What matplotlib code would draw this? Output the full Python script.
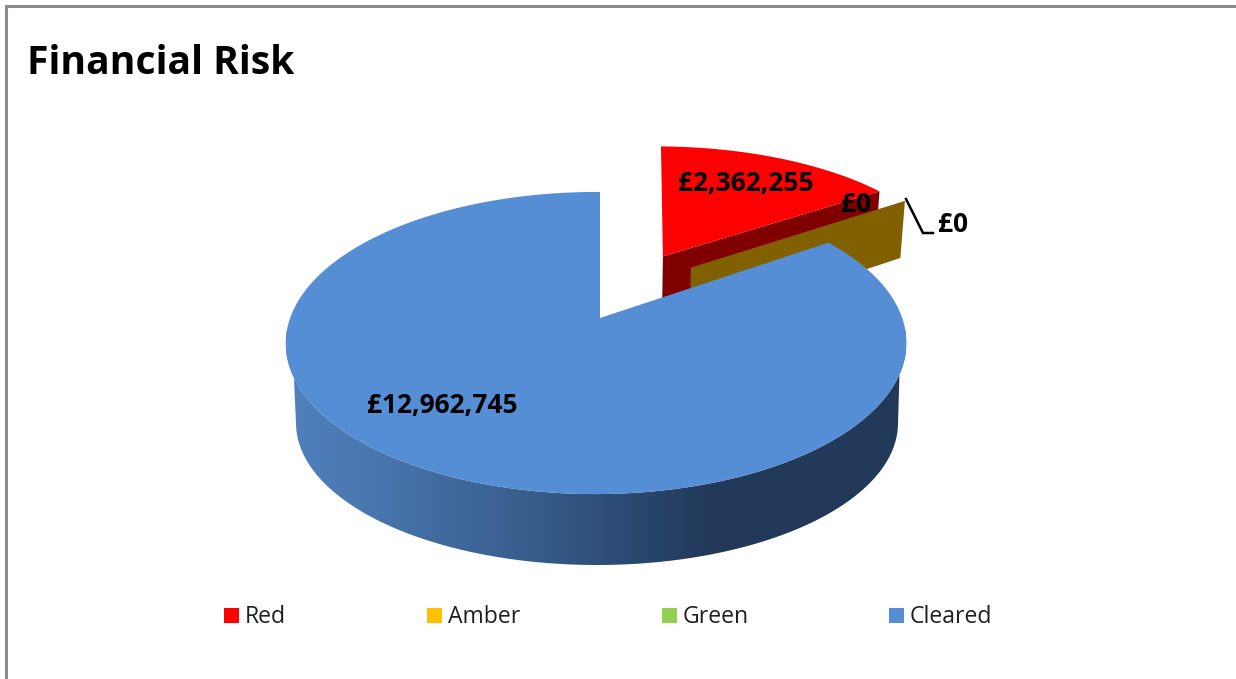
import numpy as np
import matplotlib
matplotlib.use("Agg")
import matplotlib.pyplot as plt
from matplotlib.patches import Polygon, Rectangle
from matplotlib.colors import LinearSegmentedColormap

categories = ["Red", "Amber", "Green", "Cleared"]
values = [2362255, 0, 0, 12962745]
value_labels = ["£2,362,255", "£0", "£0", "£12,962,745"]
top_colors = ["#FF0000", "#FFC000", "#92D050", "#558ED5"]
wall_colors = ["#800000", "#806000", "#496828", "#2A4A70"]

W, H = 1236, 679
plt.rcParams["font.family"] = ["Open Sans", "DejaVu Sans"]

fig = plt.figure(figsize=(W / 100, H / 100), dpi=100)
ax = fig.add_axes([0, 0, 1, 1])
ax.set_xlim(0, W)
ax.set_ylim(H, 0)
ax.axis("off")

# Chart-area frame, open along the right and bottom edges of the canvas
ax.plot([6, 6, W], [H, 6, 6], color="#8C8C8C", lw=2.2, solid_joinstyle="miter")


def project(u, v, gain=306.0, shear=0.0):
    """Map plan coordinates on the pie's unit disc to the tilted view."""
    d = 1 + 0.1656 * v + 0.0125 * u
    return 600 + (gain * u + shear * v) / d, 318 - 146.9 * v / d


def drop(x, y):
    """Carry a point on the top face of a pulled-out slice down to its base."""
    return 600 + 0.985 * (x - 600), 1.0476 * y + 47.5


def rim(start, stop, offset=(0.0, 0.0), n=400, **view):
    th = np.radians(np.linspace(start, stop, n))
    return project(offset[0] + np.cos(th), offset[1] + np.sin(th), **view)


# Slice angles follow the values, running clockwise from twelve o'clock
total = sum(values)
red_end = 90 - 360 * values[0] / total
cleared_sweep = 360 * values[3] / total

# Pull-out of each slice in plan coordinates, with its view adjustment
red_off = (0.205, 0.452)
red_view = dict(gain=313.0, shear=8.0)
amber_off = (0.307, 0.365)
amber_view = dict(gain=315.0)

# Red slice: cut-face wall, then top face
rx, ry = rim(red_end, 90, red_off, **red_view)
red_apex = project(*red_off, **red_view)
corner = (rx[0], ry[0])
ax.add_patch(Polygon([red_apex, corner, drop(*corner), drop(*red_apex)],
                     fc=wall_colors[0], ec="none", zorder=2))
ax.add_patch(Polygon([red_apex, *zip(rx, ry)], fc=top_colors[0], ec="none", zorder=3))

# Amber slice has no sweep, so only its wall shows
am_apex = project(*amber_off, **amber_view)
am_tip = project(amber_off[0] + np.cos(np.radians(red_end)),
                 amber_off[1] + np.sin(np.radians(red_end)), **amber_view)
ax.add_patch(Polygon([am_apex, am_tip, drop(*am_tip), drop(*am_apex)],
                     fc=wall_colors[1], ec="none", zorder=4))

# Cleared slice: curved outer wall with horizontal shading, then top face
bx, by = rim(90, 90 + cleared_sweep)
wx, wy = rim(179, 361)
base = np.radians(np.linspace(180, 360, 400))
ux = 597 + 301 * np.cos(base)
uy = 423 - 142 * np.sin(base)
wall = Polygon(list(zip(wx, wy)) + list(zip(ux[::-1], uy[::-1])),
               fc="none", ec="none", zorder=5)
ax.add_patch(wall)
shade = LinearSegmentedColormap.from_list(
    "wall", [(0, "#4F81BD"), (0.12, "#4A78B0"), (0.42, "#365A88"),
             (0.68, "#22395A"), (1, "#22395A")])
im = ax.imshow(np.linspace(0, 1, 512)[None, :], extent=(286, 906, 600, 330),
               cmap=shade, aspect="auto", zorder=5)
im.set_clip_path(wall)
ax.set_xlim(0, W)
ax.set_ylim(H, 0)
ax.add_patch(Polygon([project(0, 0), *zip(bx, by)], fc=top_colors[3], ec="none", zorder=6))

# Leader line for the amber label
ax.plot([906, 923, 933], [199, 233, 233], color="black", lw=1.8, zorder=7,
        solid_joinstyle="miter")

# Data labels
label_style = dict(fontsize=19, fontweight="bold", color="black",
                   va="center", ha="center", zorder=8)
ax.text(746, 184, value_labels[0], **label_style)
ax.text(856, 205, value_labels[1], **label_style)
ax.text(953, 225, value_labels[2], **label_style)
ax.text(442, 406, value_labels[3], **label_style)

ax.text(27, 64, "Financial Risk", fontsize=28.2, fontweight="bold", color="black",
        va="center", ha="left")

# Legend laid out by hand along the bottom
legend_x = [224, 427, 662, 889]
for name, color, x in zip(categories, top_colors, legend_x):
    ax.add_patch(Rectangle((x, 608), 14.5, 15, fc=color, ec="none"))
    ax.text(x + 21, 617, name, fontsize=16.6, color="#1F1F1F", va="center", ha="left")

fig.savefig("out.png", dpi=100, facecolor="white")
